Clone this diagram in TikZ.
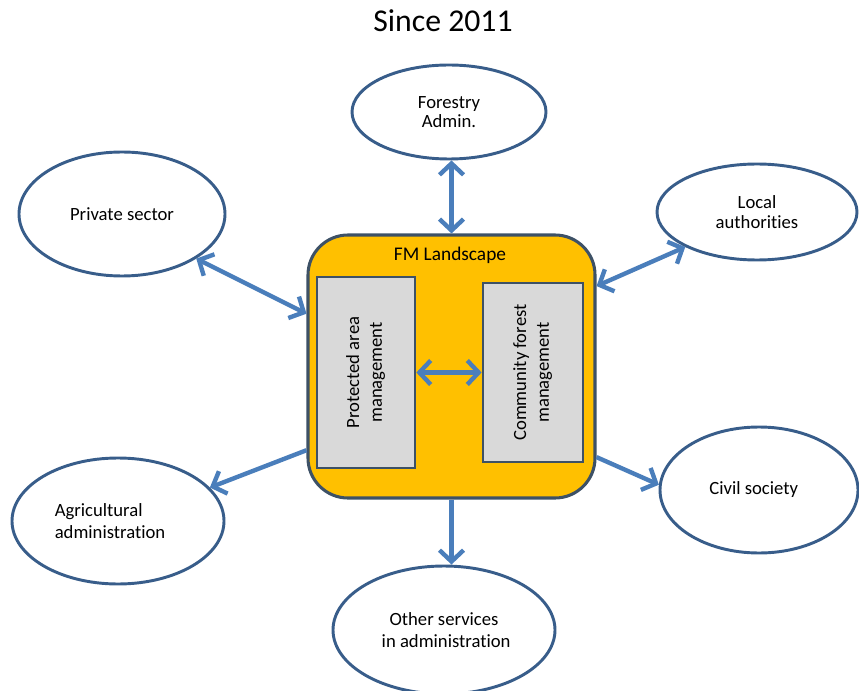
\documentclass[tikz,border=0pt]{standalone}
\usepackage{fontspec}
\setmainfont{Carlito}[Ligatures=NoCommon]
\usetikzlibrary{shapes.geometric,arrows.meta}
\definecolor{arrowblue}{HTML}{4A7EBB}
\definecolor{ellborder}{HTML}{385D8A}
\definecolor{fmorange}{HTML}{FFC000}
\definecolor{fmborder}{HTML}{3D5166}
\definecolor{boxgray}{HTML}{D9D9D9}
\begin{document}
\begin{tikzpicture}[x=0.75pt,y=-0.75pt,
  ell/.style={ellipse, draw=ellborder, line width=2.2pt, fill=white, inner sep=0pt,
    font=\fontsize{14}{14.5}\selectfont, align=center},
  wide/.style={font=\fontsize{14}{17}\selectfont},
  conn/.style={draw=arrowblue, line width=3.3pt},
  tipend/.style={-{Straight Barb[length=8.5pt,width=18pt]}},
  tipboth/.style={{Straight Barb[length=8.5pt,width=18pt]}-{Straight Barb[length=8.5pt,width=18pt]}},
  graybox/.style={draw=fmborder, line width=2pt, fill=boxgray, inner sep=0pt}
]
\useasboundingbox (0,0) rectangle (859,691);

\node[font=\fontsize{23.8}{28}\selectfont] (title) at (443,21) {Since 2011};

% central box
\node[draw=fmborder, line width=2.3pt, fill=fmorange, rounded corners=30pt,
  minimum width=215.25pt, minimum height=197.25pt, inner sep=0pt] (fm) at (451.5,366.5) {};
\node[font=\fontsize{14.5}{17}\selectfont] (fmlabel) at (450,255) {FM Landscape};

\node[graybox, minimum width=73.5pt, minimum height=143.25pt] (pa) at (366,372.5)
  {\fontsize{14}{17}\selectfont\rotatebox{90}{\begin{tabular}{@{}c@{}}Protected area\\management\end{tabular}}};
\node[graybox, minimum width=75pt, minimum height=134.25pt] (cf) at (533,372.5)
  {\fontsize{14}{17}\selectfont\rotatebox{90}{\begin{tabular}{@{}c@{}}Community forest\\management\end{tabular}}};

% outer ellipses
\node[ell, minimum width=145.5pt, minimum height=70.5pt] (forestry) at (449,112) {Forestry\\Admin.};
\node[ell, minimum width=150pt, minimum height=72pt] (local) at (757,212) {Local\\authorities};
\node[ell, minimum width=154.5pt, minimum height=93pt] (private) at (122,214) {Private sector};
\node[ell, wide, minimum width=159pt, minimum height=94.5pt, align=left] (agri) at (118,521) {Agricultural\\administration\hspace*{12pt}};
\node[ell, minimum width=148.5pt, minimum height=94.5pt] (civil) at (759,490) {\hspace*{-8pt}Civil society};
\node[ell, wide, minimum width=166.5pt, minimum height=96pt] (other) at (444,630) {Other services\\\ in administration};

% connectors
\draw[conn, tipboth] (forestry.south -| fm.north) -- (fm.north);
\draw[conn, tipboth] (private.-31) -- (fm.160.6);
\draw[conn, tipboth] (fm.29.4) -- (local.206);
\draw[conn, tipend] (fm.210) -- (agri.20);
\draw[conn, tipend] (fm.-32.9) -- (civil.177);
\draw[conn, tipend] (fm.south) -- (fm.south |- other.north);
\draw[conn, tipboth] (pa.east) -- (cf.west);
\end{tikzpicture}
\end{document}
